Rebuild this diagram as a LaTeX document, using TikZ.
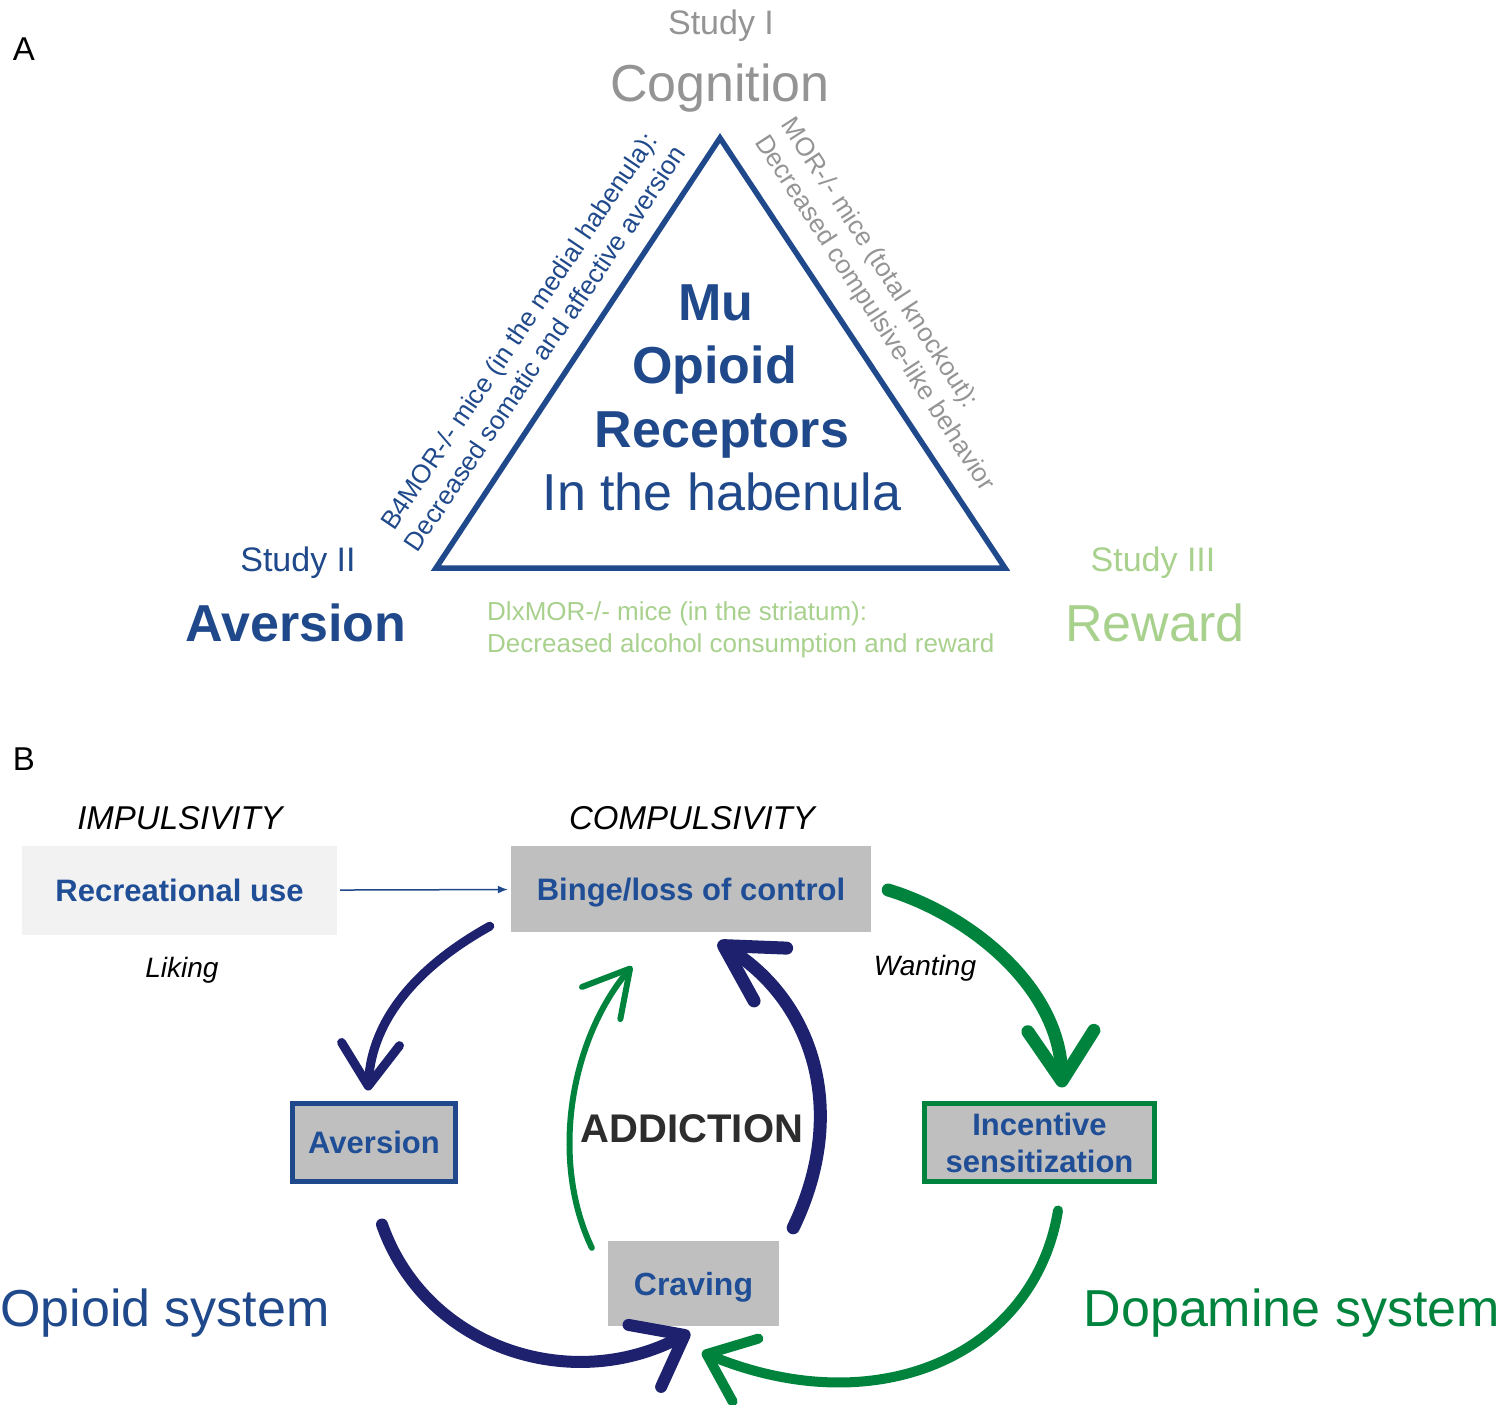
\documentclass[tikz,border=0pt]{standalone}
\usepackage{fontspec}
\setmainfont{Liberation Sans}
\usetikzlibrary{arrows.meta}
\definecolor{habblue}{RGB}{31,73,139}
\definecolor{navy}{RGB}{30,34,110}
\definecolor{dopgreen}{RGB}{0,132,61}
\definecolor{ltgreen}{RGB}{169,209,142}
\definecolor{cogray}{RGB}{148,148,148}
\definecolor{boxgray}{RGB}{191,191,191}
\definecolor{palegray}{RGB}{242,242,242}
\definecolor{txtblue}{RGB}{31,78,150}
\definecolor{darktext}{RGB}{45,45,45}
\newcommand{\fsz}[2]{\fontsize{#1pt}{#2pt}\selectfont}

\begin{document}
\begin{tikzpicture}[x=1pt,y=-1pt,
  txt/.style={inner sep=0pt,anchor=base},
  diag/.style={inner sep=0pt,font=\fsz{26}{31.5}},
  gbox/.style={fill=boxgray,inner sep=0pt,text depth=0pt,text=txtblue,font=\fsz{31}{37}\bfseries},
  lnav/.style={draw=navy,line cap=round,line join=round},
  lgrn/.style={draw=dopgreen,line cap=round,line join=round}]
  \useasboundingbox (0,0) rectangle (1507,1405);
  % panel A: triangle of the three studies
  \node[txt,font=\fsz{33}{40}] (pa) at (24,60) {A};
  \coordinate (top) at (720,138);
  \coordinate (bl) at (436,568);
  \coordinate (br) at (1005,568);
  \draw[habblue,line width=5.5pt,line join=miter] (top) -- (bl) -- (br) -- cycle;
  \node[txt,cogray,font=\fsz{34}{40}] (st1) at (721,35) {Study I};
  \node[txt,cogray,font=\fsz{52}{60}] (cogn) at (720,101) {Cognition};
  \node[txt,habblue,font=\fsz{34}{40}] (st2) at (298,571) {Study II};
  \node[txt,habblue,font=\fsz{52}{60}\bfseries] (avA) at (296,641) {Aversion};
  \node[txt,ltgreen,font=\fsz{34}{40}] (st3) at (1153,571) {Study III};
  \node[txt,ltgreen,font=\fsz{52}{60}] (rew) at (1155,641) {Reward};
  % text inside the triangle
  \node[txt,habblue,font=\fsz{52}{60}\bfseries] (mu) at (716,320) {Mu};
  \node[txt,habblue,font=\fsz{52}{60}\bfseries] (opi) at (714.5,383) {Opioid};
  \node[txt,habblue,font=\fsz{52}{60}\bfseries] (rec) at (722,447) {Receptors};
  \node[txt,habblue,font=\fsz{52}{60}] (hab) at (722,510) {In the habenula};
  % mouse lines along the sides
  \node[diag,habblue,rotate=56,align=center] (b4mor) at (531.5,339.5) {B4MOR-/- mice (in the medial habenula):\\Decreased somatic and affective aversion};
  \node[diag,cogray,rotate=-57,align=left] (komor) at (887,305) {MOR-/- mice (total knockout):\\Decreased compulsive-like behavior};
  \node[diag,ltgreen,anchor=base west] (dlxa) at (487,620) {DlxMOR-/- mice (in the striatum):};
  \node[diag,ltgreen,anchor=base west] (dlxb) at (487,652) {Decreased alcohol consumption and reward};

  % panel B: addiction cycle
  \node[txt,font=\fsz{33}{40}] (pb) at (24,770) {B};
  \node[txt,font=\fsz{33}{40}\itshape] (imp) at (180,829) {IMPULSIVITY};
  \node[txt,font=\fsz{33}{40}\itshape] (comp) at (692,829) {COMPULSIVITY};
  \node[gbox,fill=palegray,minimum width=315pt,minimum height=89pt] (recr) at (179.5,890.5) {Recreational use};
  \node[gbox,minimum width=360pt,minimum height=86pt] (binge) at (691,889) {Binge/loss of control};
  \node[txt,font=\fsz{28}{34}\itshape] (lik) at (182,977) {Liking};
  \node[txt,font=\fsz{28}{34}\itshape] (want) at (925,975) {Wanting};
  \node[gbox,draw=habblue,line width=5pt,minimum width=163pt,minimum height=78pt] (avB) at (374,1142.5) {Aversion};
  \node[gbox,draw=dopgreen,line width=5pt,minimum width=230pt,minimum height=78pt,align=center] (inc) at (1039.5,1142.5) {Incentive\\sensitization};
  \node[gbox,font=\fsz{32}{37}\bfseries,minimum width=171pt,minimum height=85pt] (crav) at (693.5,1283.5) {Craving};
  \node[txt,darktext,font=\fsz{40}{48}\bfseries] (add) at (692,1142) {ADDICTION};
  \node[txt,habblue,font=\fsz{52}{60},anchor=base west] (ops) at (0,1326) {Opioid system};
  \node[txt,dopgreen,font=\fsz{52}{60},anchor=base east] (dps) at (1500,1326) {Dopamine system};

  \draw[habblue,line width=1.5pt,shorten <=3pt,shorten >=3pt,-{Latex[length=10pt,width=8pt]}] (recr) -- (binge);
  % opioid side
  \draw[lnav,line width=9pt,-{Straight Barb[round,length=42pt,width=58pt]}]
    ([shift={(-21,-6)}]binge.south west) .. controls +(-70,39) and +(4,-73) .. ([shift={(-6,-10.5)}]avB.north);
  \draw[lnav,line width=12pt,-{Straight Barb[round,length=45pt,width=70pt]}]
    ([shift={(8,40.5)}]avB.south) .. controls +(43,123) and +(-120,63) .. ([shift={(-3.5,6)}]crav.south);
  \draw[lnav,line width=13pt,-{Straight Barb[round,length=55pt,width=62pt]}]
    ([shift={(14,-13)}]crav.north east) .. controls +(57,-118) and +(94,58) .. ([shift={(27,10)}]binge.south);
  % dopamine side
  \draw[lgrn,line width=13pt,-{Straight Barb[round,length=50pt,width=66pt]}]
    ([shift={(17,1)}]binge.east) .. controls +(82,25) and +(-2,-100) .. ([shift={(22.5,-13.5)}]inc.north);
  \draw[lgrn,line width=10pt,-{Straight Barb[round,length=42pt,width=68pt]}]
    ([shift={(18.5,26.5)}]inc.south) .. controls +(-23,142) and +(178,73) .. ([shift={(8.5,26)}]crav.south);
  \draw[lgrn,line width=6pt,-{Straight Barb[round,length=45pt,width=50pt]}]
    ([shift={(-16,7)}]crav.north west) .. controls +(-42,-88) and +(-62,74) .. ([shift={(-59,34)}]binge.south);
\end{tikzpicture}
\end{document}
